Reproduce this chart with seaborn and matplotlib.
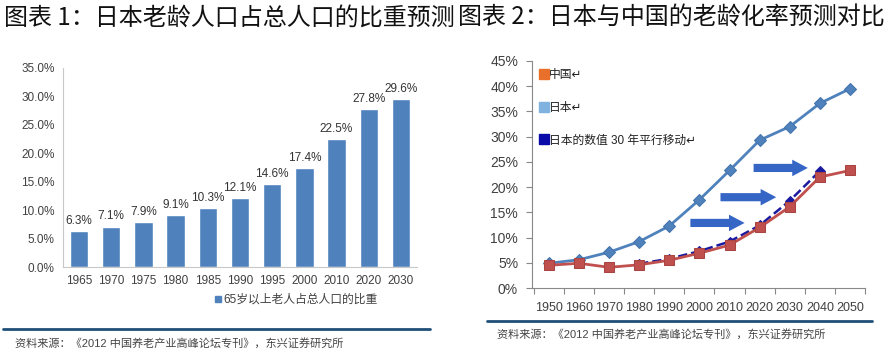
import matplotlib
matplotlib.use("Agg")
import matplotlib.pyplot as plt
from matplotlib.lines import Line2D
import seaborn as sns

# --- 数据 ---
bar_years = ["1965", "1970", "1975", "1980", "1985", "1990", "1995", "2000", "2010", "2020", "2030"]
bar_share = [6.3, 7.1, 7.9, 9.1, 10.3, 12.1, 14.6, 17.4, 22.5, 27.8, 29.6]

line_years = [1950, 1960, 1970, 1980, 1990, 2000, 2010, 2020, 2030, 2040, 2050]
japan_rate = [4.9, 5.6, 7.1, 9.2, 12.3, 17.5, 23.3, 29.3, 32.0, 36.6, 39.5]
china_rate = [4.5, 4.9, 4.1, 4.6, 5.5, 6.9, 8.5, 12.0, 16.1, 22.0, 23.3]
shift_years = [1980, 1990, 2000, 2010, 2020, 2030, 2040]
shift_rate = [4.8, 5.8, 7.3, 9.2, 12.4, 17.3, 23.2]

# --- 全局绘图配置 ---
sns.set_theme(style="white")
plt.rcParams['font.family'] = ['Liberation Sans', 'Noto Sans CJK SC', 'DejaVu Sans']
plt.rcParams['axes.unicode_minus'] = False

W, H = 894, 355
fig = plt.figure(figsize=(W / 100, H / 100), dpi=100)


def px_axes(left, top, right, bottom):
    return fig.add_axes([left / W, 1 - bottom / H, (right - left) / W, (bottom - top) / H])


# 标题
title_kw = dict(fontsize=17.3, fontweight='medium', color='#111111', va='center',
                family=['Noto Sans CJK SC', 'DejaVu Sans'])
fig.text(4 / W, 1 - 18 / H, "图表 1：日本老龄人口占总人口的比重预测", ha='left', **title_kw)
fig.text(458 / W, 1 - 18 / H, "图表 2：日本与中国的老龄化率预测对比", ha='left', **title_kw)

# --- 图表1：柱状图 ---
ax1 = px_axes(63, 68, 417, 267)
sns.barplot(x=bar_years, y=bar_share, color='#4F81BD', width=0.57, saturation=1, ax=ax1)
ax1.bar_label(ax1.containers[0], fmt='%.1f%%', padding=3, fontsize=8.5, color='#333333')
ax1.set_ylim(0, 35)
ax1.set_xlim(-0.5, 10.5)
ax1.set_yticks(range(0, 36, 5))
ax1.set_yticklabels([f"{v:.1f}%" for v in range(0, 36, 5)])
ax1.tick_params(axis='both', labelsize=8.5, colors='#404040', length=0, pad=6)
for side in ['top', 'right']:
    ax1.spines[side].set_visible(False)
for side in ['left', 'bottom']:
    ax1.spines[side].set_color('#c8c8c8')
    ax1.spines[side].set_linewidth(0.8)
ax1.grid(False)

ax1.legend(handles=[Line2D([], [], marker='s', linestyle='none', color='#4F81BD', markersize=5)],
           labels=["65岁以上老人占总人口的比重"], loc='center', frameon=False,
           bbox_to_anchor=((296 - 63) / 354, -(300 - 267) / 199), fontsize=8.5,
           handletextpad=0.1, handlelength=0.6, labelcolor='#404040')

# --- 图表2：折线图 ---
ax2 = px_axes(532, 61, 865, 288)
sns.lineplot(x=line_years, y=japan_rate, ax=ax2, color='#4F82BC', linewidth=2,
             marker='D', markersize=6, markeredgecolor='#4373ab')
sns.lineplot(x=shift_years, y=shift_rate, ax=ax2, color='#1a1aa0', linewidth=1.8,
             linestyle='--', marker='D', markersize=5, markeredgecolor='#1a1aa0')
sns.lineplot(x=line_years, y=china_rate, ax=ax2, color='#C0504D', linewidth=2,
             marker='s', markersize=7.5, markeredgecolor='#a84441')

# 箭头（示意平行移动）
for x0, x1, y in [(1997, 2015, 12.9), (2007, 2025.5, 18.0), (2018, 2036, 23.8)]:
    ax2.annotate('', xy=(x1, y), xytext=(x0, y),
                 arrowprops=dict(arrowstyle='simple,head_length=0.8,head_width=0.85,tail_width=0.42',
                                 fc='#3566c6', ec='none', mutation_scale=14, shrinkA=0, shrinkB=0))

ax2.set_xlim(1944.4, 2055)
ax2.set_ylim(0, 45)
ax2.set_xticks(line_years)
ax2.set_xticklabels([str(y) for y in line_years])
ax2.set_xticks([y - 5 for y in line_years] + [2055], minor=True)
ax2.set_yticks(range(0, 46, 5))
ax2.set_yticklabels([f"{v}%" for v in range(0, 46, 5)])
ax2.tick_params(axis='x', which='major', length=0, labelsize=9, colors='#404040', pad=10)
ax2.tick_params(axis='x', which='minor', length=4, width=0.8, color='#888888', direction='out', bottom=True)
ax2.tick_params(axis='y', labelsize=10, colors='#404040', length=4, width=0.8, direction='out',
                left=True, color='#888888', pad=6)
for side in ['top', 'right']:
    ax2.spines[side].set_visible(False)
for side in ['left', 'bottom']:
    ax2.spines[side].set_color('#888888')
    ax2.spines[side].set_linewidth(0.8)
ax2.grid(False)
ax2.set_xlabel('')
ax2.set_ylabel('')

handles = [Line2D([], [], marker='s', linestyle='none', color=c, markersize=6.5)
           for c in ['#E8702A', '#7FB2DE', '#0a0aa8']]
ax2.legend(handles=handles, labels=["中国↵", "日本↵", "日本的数值 30 年平行移动↵"],
           loc='upper left', bbox_to_anchor=(0.0, 1.0), frameon=False, fontsize=8.5,
           labelspacing=1.75, handletextpad=0.05, handlelength=0.7, borderaxespad=0.3,
           labelcolor='#222222')

# 分隔线与资料来源
fig.add_artist(Line2D([3 / W, 430 / W], [1 - 329 / H] * 2, color='#1f4e79', linewidth=2))
fig.add_artist(Line2D([487 / W, 872 / W], [1 - 321 / H] * 2, color='#1f4e79', linewidth=2))
src = "资料来源：《2012 中国养老产业高峰论坛专刊》，东兴证券研究所"
fig.text(15 / W, 1 - 343 / H, src, fontsize=8, color='#444444', va='center', ha='left')
fig.text(497 / W, 1 - 334 / H, src, fontsize=8, color='#444444', va='center', ha='left')

fig.savefig("out.png", dpi=100, facecolor='white')
